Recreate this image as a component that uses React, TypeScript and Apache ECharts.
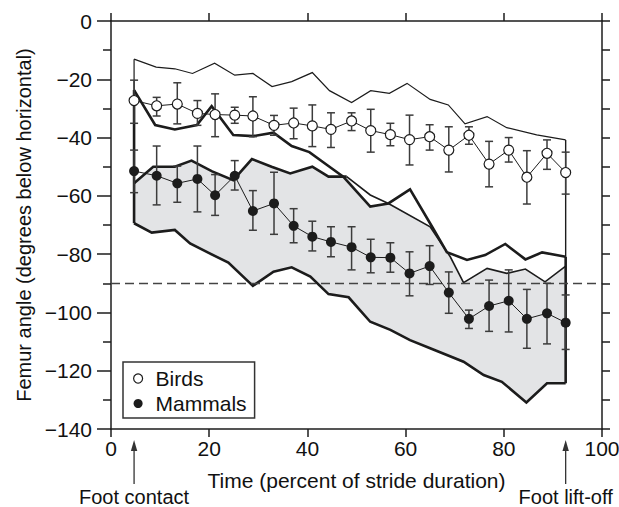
import React, { useEffect, useRef } from "react";
import * as echarts from "echarts";

// ---------------- data ----------------
const strideX = [4.7, 9.3, 13.5, 17.6, 21.2, 25.2, 28.9, 33.2, 37.2, 41.0, 44.8, 49.0, 52.9, 56.9, 60.8, 64.9, 68.8, 72.9, 77.0, 81.0, 84.7, 88.8, 92.6];

const birdsMean = [-27.3, -29.1, -28.5, -31.7, -32.1, -32.3, -32.6, -35.8, -35.0, -36.0, -37.2, -34.3, -37.6, -39.0, -40.7, -39.7, -44.3, -39.2, -49.1, -44.3, -53.6, -45.4, -52.0];
const birdsErrTop = [-20.3, -26.2, -21.2, -27.3, -25.0, -29.6, -26.0, -32.4, -29.9, -28.8, -31.5, -31.5, -30.3, -35.1, -32.3, -35.6, -36.3, -36.3, -41.3, -40.0, -44.5, -40.8, -45.0];
const birdsErrBottom = [-35.1, -32.6, -35.3, -35.8, -39.7, -35.1, -39.7, -39.2, -40.4, -43.1, -43.4, -37.6, -45.0, -42.8, -49.4, -44.3, -51.8, -42.3, -56.9, -48.4, -62.8, -50.9, -59.4];

const mammalsMean = [-51.5, -53.1, -55.7, -54.2, -59.8, -53.1, -65.2, -62.6, -70.3, -74.0, -75.8, -77.6, -81.1, -81.2, -86.6, -84.1, -93.2, -102.2, -97.8, -96.0, -102.2, -100.3, -103.5];
const mammalsErrTop = [-44.3, -42.9, -49.8, -42.9, -52.7, -47.9, -58.2, -51.9, -64.4, -68.7, -70.6, -70.6, -74.9, -76.1, -79.2, -77.1, -86.1, -99.2, -88.9, -85.4, -92.1, -90.0, -94.0];
const mammalsErrBottom = [-58.9, -63.1, -62.2, -65.5, -66.7, -58.0, -71.8, -73.2, -76.1, -78.9, -80.9, -85.4, -86.4, -86.2, -94.3, -90.4, -100.3, -105.5, -106.5, -106.7, -112.3, -110.8, -112.7];

// range envelopes [x, angle]
const birdsRangeUpper = [[4.7, -13.1], [9.2, -15.8], [13.0, -16.4], [16.6, -18.0], [21.1, -14.5], [25.2, -18.6], [28.9, -18.0], [32.8, -22.5], [36.8, -20.8], [41.0, -17.7], [44.5, -23.9], [49.0, -28.0], [52.9, -23.9], [56.7, -24.8], [60.3, -21.4], [65.0, -26.9], [68.7, -28.8], [72.1, -35.3], [76.6, -32.8], [80.6, -36.6], [86.7, -39.1], [92.6, -40.8]];
const birdsRangeLower = [[4.7, -23.7], [9.0, -35.7], [13.0, -37.2], [17.5, -35.7], [20.5, -29.2], [24.9, -39.1], [29.0, -39.5], [33.1, -38.3], [36.8, -42.9], [40.4, -45.0], [44.0, -49.4], [47.3, -53.4], [52.8, -63.7], [56.5, -62.6], [60.9, -57.8], [65.4, -70.6], [68.4, -79.3], [72.5, -82.0], [76.2, -80.3], [80.3, -76.5], [84.4, -81.8], [87.8, -79.4], [92.6, -80.9]];
const mammalsRangeUpperA = [[4.7, -55.7], [8.6, -50.0], [13.0, -50.0], [16.4, -47.9], [20.6, -51.6], [24.9, -54.6], [28.7, -47.4], [32.7, -50.0], [36.5, -52.3], [41.0, -50.0], [44.3, -53.4], [48.0, -53.4]];
const mammalsRangeUpperB = [[48.0, -53.4], [52.8, -59.7], [56.5, -62.6], [65.0, -70.6], [67.0, -75.7], [69.1, -80.9], [71.8, -89.8], [76.6, -84.9], [80.6, -86.6], [84.4, -85.1], [88.4, -89.5], [92.6, -84.1]];
const mammalsRangeLower = [[4.7, -69.4], [8.3, -72.6], [13.0, -71.7], [16.1, -76.3], [19.8, -79.5], [23.9, -82.9], [28.9, -90.9], [33.1, -86.0], [36.8, -84.5], [40.6, -87.7], [44.3, -93.7], [48.4, -94.8], [50.7, -99.2], [52.8, -103.2], [56.9, -106.0], [60.9, -109.5], [65.0, -112.3], [71.8, -116.9], [75.9, -121.5], [79.6, -123.8], [84.6, -130.9], [88.8, -124.3], [92.6, -124.3]];

const referenceAngle = -90;
const xMin = 0, xMax = 100, xStep = 20;
const yMin = -140, yMax = 0, yStep = 20, yMinorStep = 10;
const annotations = [
  { x: 4.7, label: "Foot contact" },
  { x: 92.6, label: "Foot lift-off" },
];
const legendNames = ["Birds", "Mammals"];

// ---------------- helpers ----------------
const FONT = "'Liberation Sans', Arial, Helvetica, sans-serif";
const INK = "#1c1c1c";
const zip = (xs: number[], ys: number[]) => xs.map((x, i) => [x, ys[i]]);
const zip3 = (xs: number[], a: number[], b: number[]) => xs.map((x, i) => [x, a[i], b[i]]);

function envelopeLine(data: number[][], width: number, z: number) {
  return {
    type: "line",
    data,
    symbol: "none",
    silent: true,
    z,
    lineStyle: { color: INK, width, join: "miter" },
  } as any;
}

function errorBars(data: number[][]) {
  return {
    type: "custom",
    silent: true,
    z: 6,
    encode: { x: 0, y: [1, 2] },
    data,
    renderItem: (_p: any, api: any) => {
      const x = api.value(0);
      const t = api.coord([x, api.value(1)]);
      const b = api.coord([x, api.value(2)]);
      const hw = 4;
      const st = { stroke: "#3c3c3c", lineWidth: 1.5 };
      return {
        type: "group",
        children: [
          { type: "line", shape: { x1: t[0], y1: t[1], x2: b[0], y2: b[1] }, style: st },
          { type: "line", shape: { x1: t[0] - hw, y1: t[1], x2: t[0] + hw, y2: t[1] }, style: st },
          { type: "line", shape: { x1: b[0] - hw, y1: b[1], x2: b[0] + hw, y2: b[1] }, style: st },
        ],
      };
    },
  } as any;
}

export default function App() {
  const ref = useRef<HTMLDivElement>(null);

  useEffect(() => {
    if (!ref.current) return;
    const chart = echarts.init(ref.current, null, { renderer: "svg" });

    // gray region: upper boundary is the lower of the two crossing lines
    const crossStart = mammalsRangeUpperA[mammalsRangeUpperA.length - 1][0];
    const crossEnd = mammalsRangeUpperB[2][0];
    const fillTop = [
      ...mammalsRangeUpperA,
      ...birdsRangeLower.filter((p) => p[0] > crossStart && p[0] < crossEnd),
      ...mammalsRangeUpperB.filter((p) => p[0] >= crossEnd),
    ];
    const fillPolygon = [...fillTop, ...mammalsRangeLower.slice().reverse()];

    const first = (a: number[][]) => a[0];
    const last = (a: number[][]) => a[a.length - 1];

    const option: any = {
      animation: false,
      backgroundColor: "#fff",
      textStyle: { fontFamily: FONT },
      grid: { left: 111, top: 21, right: 17, bottom: 78, containLabel: false, outerBoundsMode: "none" },
      legend: {
        data: [
          { name: legendNames[0], itemStyle: { color: "#fff", borderColor: INK, borderWidth: 1.2 } },
          { name: legendNames[1], itemStyle: { color: INK } },
        ],
        orient: "vertical",
        left: 123,
        top: 362,
        icon: "circle",
        itemWidth: 9,
        itemHeight: 9,
        itemGap: 4,
        padding: [6, 8, 4, 10],
        borderColor: "#333",
        borderWidth: 1.5,
        backgroundColor: "#fff",
        textStyle: { fontSize: 21, color: "#111", fontFamily: FONT, padding: [0, 0, 0, 8] },
        z: 20,
      },
      xAxis: [
        {
          type: "value", min: xMin, max: xMax, interval: xStep, position: "bottom",
          axisLine: { show: true, onZero: false, lineStyle: { color: INK, width: 1.5 } },
          axisTick: { show: true, inside: false, length: 8, lineStyle: { color: INK, width: 1.5 } },
          axisLabel: { show: true, fontSize: 21, color: "#111", margin: 9, fontFamily: FONT },
          splitLine: { show: false },
          name: "Time (percent of stride duration)",
          nameLocation: "middle",
          nameGap: 41,
          nameTextStyle: { fontSize: 21, color: "#111", fontFamily: FONT },
        },
        {
          type: "value", min: xMin, max: xMax, interval: xStep, position: "top",
          axisLine: { show: true, onZero: false, lineStyle: { color: INK, width: 1.5 } },
          axisTick: { show: true, inside: false, length: 8, lineStyle: { color: INK, width: 1.5 } },
          axisLabel: { show: false },
          splitLine: { show: false },
        },
      ],
      yAxis: [
        {
          type: "value", min: yMin, max: yMax, interval: yStep, position: "left",
          axisLine: { show: true, onZero: false, lineStyle: { color: INK, width: 1.5 } },
          axisTick: { show: true, inside: false, length: 14, lineStyle: { color: INK, width: 1.5 } },
          minorTick: { show: true, splitNumber: yStep / yMinorStep, length: 8, lineStyle: { color: INK, width: 1.5 } },
          axisLabel: {
            show: true, fontSize: 21, color: "#111", margin: 19, fontFamily: FONT,
            formatter: (v: number) => (v < 0 ? "\u2212" + Math.abs(v) : String(v)),
          },
          splitLine: { show: false },
          minorSplitLine: { show: false },
          name: "Femur angle (degrees below horizontal)",
          nameLocation: "middle",
          nameGap: 70,
          nameRotate: 90,
          nameTextStyle: { fontSize: 20, color: "#111", fontFamily: FONT },
        },
        {
          type: "value", min: yMin, max: yMax, interval: yMinorStep, position: "right",
          axisLine: { show: true, onZero: false, lineStyle: { color: INK, width: 1.5 } },
          axisTick: { show: true, inside: false, length: 8, lineStyle: { color: INK, width: 1.5 } },
          axisLabel: { show: false },
          splitLine: { show: false },
        },
      ],
      series: [
        {
          type: "custom",
          silent: true,
          z: 1,
          data: [[0, 0]],
          renderItem: (_p: any, api: any) => ({
            type: "polygon",
            shape: { points: fillPolygon.map((p) => api.coord(p)) },
            style: { fill: "#e3e4e6", stroke: "none" },
          }),
          markLine: {
            silent: true,
            symbol: ["none", "none"],
            label: { show: false },
            lineStyle: { type: [9, 5], color: "#444", width: 1.3 },
            data: [{ yAxis: referenceAngle }],
          },
        },
        envelopeLine(birdsRangeUpper, 1.2, 3),
        envelopeLine(birdsRangeLower, 2.6, 4),
        envelopeLine(mammalsRangeUpperA, 2.6, 4),
        envelopeLine(mammalsRangeUpperB, 1.6, 3),
        envelopeLine(mammalsRangeLower, 2.6, 4),
        envelopeLine([first(birdsRangeUpper), first(birdsRangeLower)], 1.2, 3),
        envelopeLine([first(birdsRangeLower), first(mammalsRangeLower)], 2.6, 4),
        envelopeLine([last(birdsRangeUpper), last(birdsRangeLower)], 1.4, 3),
        envelopeLine([last(birdsRangeLower), last(mammalsRangeLower)], 2.6, 4),
        errorBars(zip3(strideX, birdsErrTop, birdsErrBottom)),
        errorBars(zip3(strideX, mammalsErrTop, mammalsErrBottom)),
        {
          name: legendNames[0],
          type: "line",
          data: zip(strideX, birdsMean),
          z: 8,
          symbol: "circle",
          symbolSize: 10,
          showAllSymbol: true,
          lineStyle: { color: INK, width: 1 },
          itemStyle: { color: "#fff", borderColor: INK, borderWidth: 1.2 },
        },
        {
          name: legendNames[1],
          type: "line",
          data: zip(strideX, mammalsMean),
          z: 8,
          symbol: "circle",
          symbolSize: 10,
          showAllSymbol: true,
          lineStyle: { color: INK, width: 1 },
          itemStyle: { color: INK },
        },
        {
          type: "custom",
          silent: true,
          clip: false,
          z: 10,
          data: annotations.map((a) => [a.x, yMin]),
          renderItem: (params: any, api: any) => {
            const p = api.coord([api.value(0), api.value(1)]);
            const x = p[0];
            const y = p[1];
            return {
              type: "group",
              children: [
                { type: "line", shape: { x1: x, y1: y + 16, x2: x, y2: y + 55 }, style: { stroke: "#333", lineWidth: 1.3 } },
                { type: "polygon", shape: { points: [[x, y + 11], [x - 3.2, y + 22], [x + 3.2, y + 22]] }, style: { fill: "#333" } },
                {
                  type: "text",
                  style: {
                    x, y: y + 68, text: annotations[params.dataIndex].label,
                    align: "center", verticalAlign: "middle",
                    fontSize: 20, fill: "#111", fontFamily: FONT,
                  },
                },
              ],
            };
          },
        },
      ],
    };

    chart.setOption(option);
    return () => chart.dispose();
  }, []);

  return <div ref={ref} style={{ position: "fixed", left: 0, top: 0, width: 619, height: 507 }} />;
}
